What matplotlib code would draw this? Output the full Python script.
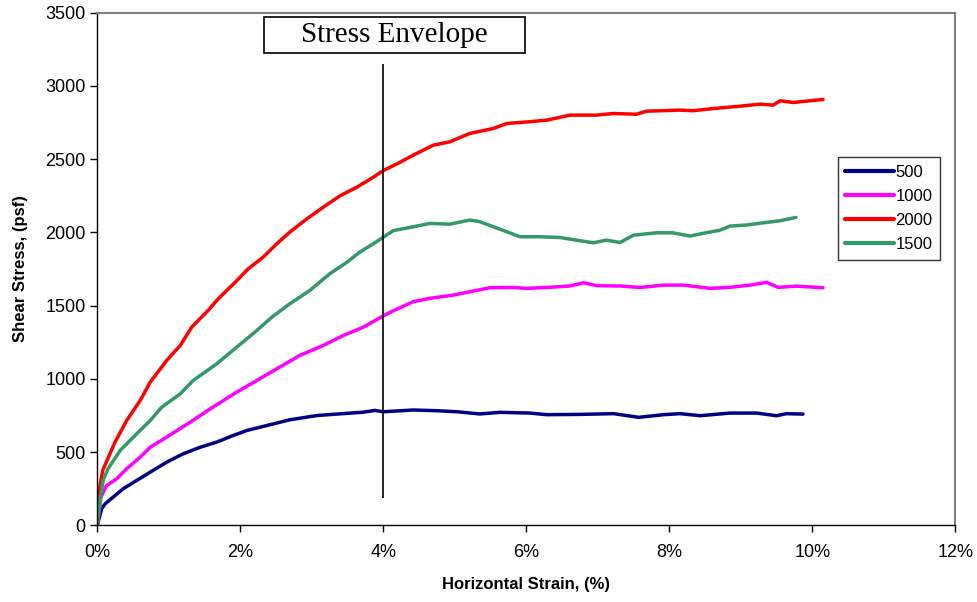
import numpy as np
import matplotlib
matplotlib.use('Agg')
import matplotlib.pyplot as plt
from matplotlib.patches import Rectangle

plt.rcParams['font.family'] = ['Liberation Sans', 'DejaVu Sans']

# strain (%) and shear stress (psf)
strain_2000 = [0.0, 0.03, 0.075, 0.247, 0.41, 0.60, 0.74, 0.97, 1.16, 1.32, 1.55, 1.69, 1.93, 2.11, 2.32,
               2.51, 2.69, 2.93, 3.16, 3.40, 3.63, 3.86, 4.0, 4.19, 4.42, 4.70, 4.93, 5.21, 5.54, 5.73,
               6.05, 6.29, 6.61, 6.98, 7.22, 7.54, 7.68, 8.15, 8.33, 8.62, 8.99, 9.27, 9.45, 9.55, 9.73,
               9.97, 10.15]
stress_2000 = [0, 250, 375, 568, 716, 853, 978, 1126, 1228, 1353, 1467, 1546, 1660, 1751, 1831,
               1922, 2001, 2092, 2172, 2251, 2308, 2376, 2422, 2467, 2527, 2595, 2618, 2675, 2709, 2743,
               2755, 2766, 2800, 2800, 2811, 2806, 2827, 2834, 2830, 2845, 2861, 2875, 2868, 2898, 2886,
               2898, 2907]

strain_1500 = [0.0, 0.04, 0.08, 0.15, 0.32, 0.55, 0.74, 0.90, 1.16, 1.34, 1.67, 1.95, 2.23, 2.44, 2.69,
               2.97, 3.25, 3.49, 3.67, 3.86, 4.0, 4.14, 4.42, 4.65, 4.93, 5.21, 5.35, 5.54, 5.73, 5.91,
               6.19, 6.47, 6.75, 6.94, 7.12, 7.31, 7.50, 7.82, 8.05, 8.29, 8.47, 8.71, 8.85, 9.08, 9.31,
               9.55, 9.77]
stress_1500 = [0, 170, 307, 387, 512, 625, 716, 807, 898, 989, 1103, 1217, 1330, 1421, 1512,
               1603, 1717, 1796, 1865, 1922, 1967, 2012, 2038, 2061, 2056, 2084, 2073, 2038, 2004, 1970,
               1970, 1965, 1943, 1929, 1947, 1931, 1981, 1997, 1997, 1975, 1993, 2015, 2043, 2050, 2065,
               2079, 2102]

strain_1000 = [0.0, 0.05, 0.13, 0.27, 0.41, 0.60, 0.74, 0.97, 1.30, 1.58, 1.95, 2.23, 2.55, 2.83, 3.16,
               3.44, 3.72, 4.0, 4.14, 4.42, 4.65, 4.98, 5.21, 5.49, 5.82, 6.0, 6.29, 6.61, 6.80, 6.99,
               7.31, 7.59, 7.92, 8.2, 8.57, 8.85, 9.13, 9.36, 9.52, 9.78, 10.15]
stress_1000 = [0, 193, 273, 318, 387, 466, 534, 603, 705, 796, 910, 989, 1080, 1160, 1228,
               1296, 1353, 1430, 1465, 1527, 1550, 1572, 1595, 1622, 1624, 1618, 1624, 1634, 1656, 1636,
               1634, 1624, 1640, 1640, 1618, 1625, 1640, 1659, 1625, 1633, 1622]

strain_500 = [0.0, 0.06, 0.11, 0.22, 0.36, 0.55, 0.74, 0.97, 1.20, 1.44, 1.67, 1.90, 2.09, 2.37, 2.69,
              3.07, 3.40, 3.72, 3.88, 4.0, 4.42, 4.75, 5.03, 5.35, 5.63, 6.05, 6.29, 6.75, 7.22, 7.57,
              7.92, 8.15, 8.43, 8.85, 9.22, 9.50, 9.64, 9.87]
stress_500 = [0, 114, 148, 193, 250, 307, 364, 432, 489, 534, 569, 614, 648, 682, 721,
              750, 762, 773, 785, 776, 788, 783, 776, 761, 772, 767, 756, 758, 763, 738,
              756, 763, 749, 767, 767, 749, 763, 760]

series = [
    ('500', strain_500, stress_500, '#000080'),
    ('1000', strain_1000, stress_1000, '#FF00FF'),
    ('2000', strain_2000, stress_2000, '#FF0000'),
    ('1500', strain_1500, stress_1500, '#339966'),
]

fig = plt.figure(figsize=(9.77, 6.02), dpi=100)
ax = fig.add_axes([0.0996, 0.1271, 0.8782, 0.8521])

for name, xs, ys, col in series:
    ax.plot(xs, ys, color=col, lw=2.5, label=name, solid_capstyle='round')

# stress envelope marker
ax.vlines(4.0, 190, 3150, color='black', lw=1.2)
ax.add_patch(Rectangle((0.1943, 0.9216), 0.3042, 0.069, transform=ax.transAxes,
                       fill=False, edgecolor='black', lw=1.2, zorder=5))
ax.text(0.3464, 0.957, 'Stress Envelope', transform=ax.transAxes, ha='center', va='center',
        fontsize=21, family=['Liberation Serif', 'DejaVu Serif'])

ax.set_xlim(0, 12)
ax.set_ylim(0, 3500)
ax.set_xticks(np.arange(0, 13, 2))
ax.set_xticklabels([f'{v}%' for v in range(0, 13, 2)])
ax.set_yticks(np.arange(0, 3501, 500))
ax.tick_params(axis='both', labelsize=13, direction='out', length=5, width=1, colors='black')
ax.tick_params(axis='x', pad=8)

for s in ['left', 'bottom']:
    ax.spines[s].set_color('black')
    ax.spines[s].set_linewidth(1.0)
for s in ['top', 'right']:
    ax.spines[s].set_color('#808080')
    ax.spines[s].set_linewidth(1.5)

ax.set_xlabel('Horizontal Strain, (%)', fontsize=12, fontweight='bold', labelpad=12)
ax.set_ylabel('Shear Stress, (psf)', fontsize=12, fontweight='bold', labelpad=12)

leg = ax.legend(loc='upper left', bbox_to_anchor=(0.863, 0.718), fontsize=12, frameon=True,
                fancybox=False, edgecolor='black', handlelength=2.9, borderpad=0.45,
                labelspacing=0.55, handletextpad=0.1, borderaxespad=0)
leg.get_frame().set_linewidth(1.0)
for line in leg.get_lines():
    line.set_linewidth(3.0)

fig.savefig('out.png', dpi=100)
